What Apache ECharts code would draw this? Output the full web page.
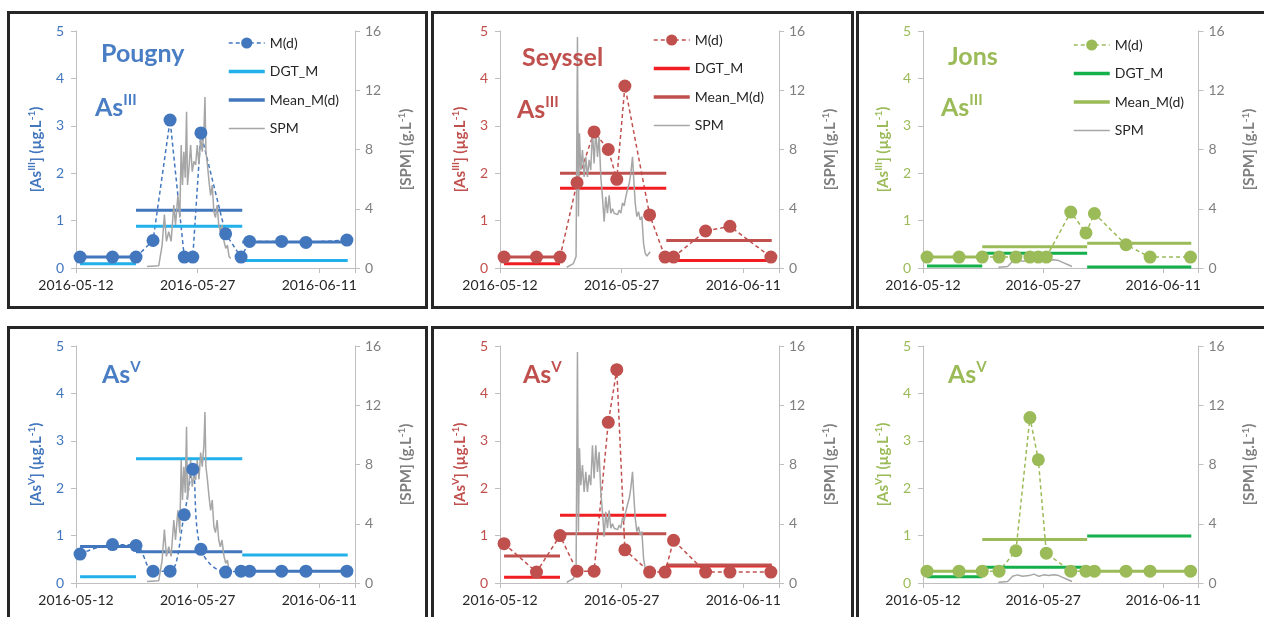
<!DOCTYPE html>
<html>
<head>
<meta charset="utf-8">
<script src="https://cdn.jsdelivr.net/npm/echarts@6/dist/echarts.min.js"></script>
<style>
    body { margin: 0; width: 1264px; height: 617px; overflow: hidden; position: relative; background: #fff; }
    .panel { position: absolute; box-sizing: border-box; border: 3px solid #262626; background: #fff; }
    .panel > div { width: 100%; height: 100%; }
</style>
</head>
<body>
<div class="panel" style="left:7px;top:11px;width:421px;height:298px"><div id="p1"></div></div>
<div class="panel" style="left:431px;top:11px;width:423px;height:298px"><div id="p2"></div></div>
<div class="panel" style="left:856px;top:11px;width:412px;height:298px"><div id="p3"></div></div>
<div class="panel" style="left:7px;top:326px;width:421px;height:300px"><div id="p4"></div></div>
<div class="panel" style="left:431px;top:326px;width:423px;height:300px"><div id="p5"></div></div>
<div class="panel" style="left:856px;top:326px;width:412px;height:300px"><div id="p6"></div></div>
<script>
'use strict';
// x = days since 2016-05-12
var xTicks = ['2016-05-12', '2016-05-27', '2016-06-11'];
var sampleDays = [0.5, 4.5, 7.4, 9.5, 11.6, 13.35, 14.4, 15.4, 18.45, 20.35, 21.4, 25.35, 28.35, 33.4];
// DGT deployment periods
var periodStart = [0.5, 7.4, 20.5];
var periodEnd = [7.4, 20.5, 33.5];

// As(III) - top row
var pougnyAs3 = [0.23, 0.23, 0.23, 0.58, 3.12, 0.23, 0.23, 2.85, 0.72, 0.23, 0.56, 0.56, 0.54, 0.59];
var pougnyAs3Mean = [0.23, 1.22, 0.55];
var pougnyAs3Dgt = [0.09, 0.88, 0.16];
var seysselAs3 = [0.23, 0.23, 0.23, 1.8, 2.87, 2.5, 1.87, 3.84, 1.12, 0.23, 0.23, 0.78, 0.88, 0.23];
var seysselAs3Mean = [0.23, 2.0, 0.58];
var seysselAs3Dgt = [0.09, 1.68, 0.16];
var jonsAs3 = [0.23, 0.23, 0.23, 0.23, 0.23, 0.23, 0.23, 0.23, 1.18, 0.74, 1.15, 0.49, 0.23, 0.23];
var jonsAs3Mean = [0.23, 0.45, 0.52];
var jonsAs3Dgt = [0.04, 0.31, 0.02];

// As(V) - bottom row
var pougnyAs5 = [0.61, 0.81, 0.79, 0.25, 0.25, 1.44, 2.4, 0.71, 0.23, 0.25, 0.25, 0.25, 0.25, 0.25];
var pougnyAs5Mean = [0.77, 0.66, 0.25];
var pougnyAs5Dgt = [0.13, 2.62, 0.59];
var seysselAs5 = [0.83, 0.23, 1.0, 0.25, 0.25, 3.39, 4.5, 0.7, 0.23, 0.23, 0.9, 0.23, 0.23, 0.23];
var seysselAs5Mean = [0.57, 1.04, 0.38];
var seysselAs5Dgt = [0.12, 1.43, 0.36];
var jonsAs5 = [0.25, 0.25, 0.25, 0.25, 0.68, 3.49, 2.6, 0.63, 0.25, 0.25, 0.25, 0.25, 0.25, 0.25];
var jonsAs5Mean = [0.25, 0.92, 0.25];
var jonsAs5Dgt = [0.13, 0.33, 0.99];

// SPM (g/L), right axis
var spmPougnyDays = [8.76, 10.2, 10.62, 10.9, 11.15, 11.44, 11.73, 12.06, 12.27, 12.56, 12.8, 12.97, 13.13, 13.3,
    13.47, 13.63, 13.75, 13.96, 14.13, 14.33, 14.54, 14.75, 14.95, 15.16, 15.37, 15.57, 15.78, 15.9, 16.02, 16.2,
    16.4, 16.6, 16.8, 17.0, 17.2, 17.4, 17.6, 17.8, 18.0, 18.25, 18.46, 18.67, 18.87, 19.08];
var spmPougny = [0.1, 0.15, 1.55, 3.6, 1.8, 2.45, 1.8, 4.25, 2.9, 4.9, 3.4, 8.3, 5.6, 7.85,
    6.1, 10.55, 5.6, 6.95, 8.3, 6.5, 7.2, 6.95, 8.3, 7.0, 8.8, 7.85, 9.4, 11.55, 7.85, 7.0,
    5.85, 4.9, 5.6, 3.8, 3.4, 4.25, 2.9, 2.45, 2.9, 1.8, 1.33, 1.55, 0.77, 0.65];
var spmSeysselDays = [8.23, 9.05, 9.38, 9.55, 9.67, 9.8, 9.96, 10.17, 10.37, 10.58, 10.78, 10.99, 11.19, 11.4,
    11.6, 11.81, 12.02, 12.22, 12.43, 12.63, 12.84, 13.04, 13.25, 13.46, 13.66, 13.87, 14.07, 14.28, 14.49,
    14.69, 14.9, 15.1, 15.31, 15.51, 15.72, 15.93, 16.13, 16.34, 16.5, 16.67, 16.87, 17.08, 17.28, 17.49,
    17.7, 17.9, 18.11, 18.31, 18.52];
var spmSeyssel = [0.05, 0.3, 0.77, 15.6, 3.47, 9.1, 6.6, 7.97, 6.15, 7.5, 6.15, 7.3, 6.6, 9.3,
    7.05, 9.3, 7.5, 8.85, 6.15, 4.8, 3.13, 4.8, 3.7, 4.9, 3.7, 4.0, 3.7, 3.8, 3.6,
    3.9, 3.7, 4.4, 4.2, 4.8, 5.3, 5.7, 6.4, 7.5, 5.9, 4.4, 3.47, 3.8, 3.25, 3.47,
    1.67, 1.0, 0.8, 0.8, 1.1];
var spmJonsDays = [9.42, 10.57, 11.19, 11.8, 12.42, 13.25, 13.86, 14.48, 15.1, 15.72, 16.33, 16.95, 17.57, 18.19, 18.6];
var spmJons = [0.05, 0.1, 0.45, 0.55, 0.45, 0.5, 0.6, 0.45, 0.55, 0.5, 0.55, 0.5, 0.35, 0.2, 0.1];

var legendNames = ['M(d)', 'DGT_M', 'Mean_M(d)', 'SPM'];
var legendWidths = [1.5, 3.5, 3.5, 1.5];

function pairs(xs, ys) {
    return xs.map(function (x, i) { return [x, ys[i]]; });
}

// one horizontal segment per DGT period, broken between periods
function steps(vals) {
    var out = [];
    vals.forEach(function (v, i) {
        if (i > 0) out.push([periodStart[i], '-']);
        out.push([periodStart[i], v]);
        out.push([periodEnd[i], v]);
    });
    return out;
}

function dayLabel(d) {
    if (d % 15 !== 0) return '';
    return xTicks[d / 15] || '';
}

function buildOption(p) {
    var sup = p.species;
    return {
        animation: false,
        textStyle: { fontFamily: 'Lato' },
        title: [
            {
                show: !!p.station,
                text: p.station || '',
                left: p.stationPos[0], top: p.stationPos[1],
                textStyle: { fontSize: 25, fontWeight: 'bold', color: p.titleColor, lineHeight: 28 }
            },
            {
                text: '{a|As}{b|' + sup + '}',
                left: p.speciesPos[0], top: p.speciesPos[1],
                textStyle: {
                    rich: {
                        a: { fontSize: 25, fontWeight: 'bold', color: p.titleColor, lineHeight: 30, fontFamily: 'Lato' },
                        b: { fontSize: 15, fontWeight: 'bold', color: p.titleColor, lineHeight: 20, verticalAlign: 'top', fontFamily: 'Lato' }
                    }
                }
            }
        ],
        legend: {
            show: p.legend,
            // plain lines in the legend for the three series without markers
            data: legendNames.map(function (n, i) {
                var item = { name: n, lineStyle: { width: legendWidths[i] } };
                if (i > 0) item.itemStyle = { opacity: 0 };
                return item;
            }),
            orient: 'vertical',
            left: p.legendPos[0], top: p.legendPos[1],
            itemWidth: 36, itemHeight: 14, itemGap: 14.5,
            selectedMode: false,
            textStyle: { fontSize: 14, color: '#262626' }
        },
        grid: { left: p.gridLeft, top: 17, width: p.gridWidth, height: 237 },
        xAxis: {
            type: 'value', min: 0, max: 34.4, interval: 15,
            axisLine: { lineStyle: { color: '#bfbfbf' } },
            axisTick: { length: 5, lineStyle: { color: '#bfbfbf' } },
            axisLabel: { fontSize: 14, color: '#262626', margin: 10, formatter: dayLabel },
            splitLine: { show: false }
        },
        yAxis: [
            {
                type: 'value', min: 0, max: 5, interval: 1, position: 'left',
                name: '{n|[As}{s|' + sup + '}{n|] (µg.L}{s|-1}{n|)}',
                nameLocation: 'middle', nameRotate: 90, nameGap: 31,
                nameTextStyle: {
                    fontSize: 15, fontWeight: 'bold', color: p.color,
                    rich: {
                        n: { fontSize: 15, fontWeight: 'bold', color: p.color, lineHeight: 18, fontFamily: 'Lato' },
                        s: { fontSize: 10, fontWeight: 'bold', color: p.color, lineHeight: 12, verticalAlign: 'top', fontFamily: 'Lato' }
                    }
                },
                axisLine: { show: true, lineStyle: { color: '#bfbfbf' } },
                axisTick: { show: true, length: 5, lineStyle: { color: '#bfbfbf' } },
                axisLabel: { fontSize: 14, color: p.color, margin: 12 },
                splitLine: { show: false }
            },
            {
                type: 'value', min: 0, max: 16, interval: 4, position: 'right',
                name: '{n|[SPM] (g.L}{s|-1}{n|)}',
                nameLocation: 'middle', nameRotate: 90, nameGap: 42,
                nameTextStyle: {
                    fontSize: 15, fontWeight: 'bold', color: '#7f7f7f',
                    rich: {
                        n: { fontSize: 15, fontWeight: 'bold', color: '#7f7f7f', lineHeight: 18, fontFamily: 'Lato' },
                        s: { fontSize: 10, fontWeight: 'bold', color: '#7f7f7f', lineHeight: 12, verticalAlign: 'top', fontFamily: 'Lato' }
                    }
                },
                axisLine: { show: true, lineStyle: { color: '#bfbfbf' } },
                axisTick: { show: true, length: 5, lineStyle: { color: '#bfbfbf' } },
                axisLabel: { fontSize: 14, color: '#7f7f7f', margin: 10 },
                splitLine: { show: false }
            }
        ],
        series: [
            {
                name: 'M(d)', type: 'line',
                data: pairs(sampleDays, p.md),
                symbol: 'circle', symbolSize: 13, smooth: p.smooth ? 0.35 : false,
                lineStyle: { type: [4, 3], width: 1.5, color: p.color },
                itemStyle: { color: p.color }
            },
            {
                name: 'DGT_M', type: 'line', data: steps(p.dgt), symbol: 'none',
                lineStyle: { width: 3, color: p.dgtColor }, itemStyle: { color: p.dgtColor }
            },
            {
                name: 'Mean_M(d)', type: 'line', data: steps(p.mean), symbol: 'none',
                lineStyle: { width: 3, color: p.color }, itemStyle: { color: p.color }
            },
            {
                name: 'SPM', type: 'line', yAxisIndex: 1, data: pairs(p.spmDays, p.spm), symbol: 'none',
                lineStyle: { width: 1.5, color: '#a6a6a6' }, itemStyle: { color: '#a6a6a6' }
            }
        ]
    };
}

var blue = '#4377bd', blueDgt = '#22b0ea';
var red = '#c0504d', redDgt = '#f01e23';
var green = '#9bbb59', greenDgt = '#14b04c';

var panels = [
    { id: 'p1', station: 'Pougny', species: 'III', color: blue, titleColor: '#4a7ec4', dgtColor: blueDgt,
      md: pougnyAs3, mean: pougnyAs3Mean, dgt: pougnyAs3Dgt, spmDays: spmPougnyDays, spm: spmPougny,
      legend: true, legendPos: [212, 17], stationPos: [86, 21], speciesPos: [80, 74], gridLeft: 66, gridWidth: 279 },
    { id: 'p2', station: 'Seyssel', species: 'III', color: red, titleColor: red, dgtColor: redDgt,
      md: seysselAs3, mean: seysselAs3Mean, dgt: seysselAs3Dgt, spmDays: spmSeysselDays, spm: spmSeyssel,
      legend: true, legendPos: [213, 14], stationPos: [83, 25], speciesPos: [78, 76], gridLeft: 66, gridWidth: 279 },
    { id: 'p3', station: 'Jons', species: 'III', color: green, titleColor: green, dgtColor: greenDgt,
      md: jonsAs3, mean: jonsAs3Mean, dgt: jonsAs3Dgt, spmDays: spmJonsDays, spm: spmJons,
      legend: true, legendPos: [208, 19], stationPos: [84, 24], speciesPos: [77, 74], gridLeft: 64, gridWidth: 277 },
    { id: 'p4', station: '', species: 'V', color: blue, titleColor: '#4a7ec4', dgtColor: blueDgt, smooth: true,
      md: pougnyAs5, mean: pougnyAs5Mean, dgt: pougnyAs5Dgt, spmDays: spmPougnyDays, spm: spmPougny,
      legend: false, legendPos: [0, 0], stationPos: [0, 0], speciesPos: [87, 26], gridLeft: 66, gridWidth: 279 },
    { id: 'p5', station: '', species: 'V', color: red, titleColor: red, dgtColor: redDgt,
      md: seysselAs5, mean: seysselAs5Mean, dgt: seysselAs5Dgt, spmDays: spmSeysselDays, spm: spmSeyssel,
      legend: false, legendPos: [0, 0], stationPos: [0, 0], speciesPos: [84, 26], gridLeft: 66, gridWidth: 279 },
    { id: 'p6', station: '', species: 'V', color: green, titleColor: green, dgtColor: greenDgt,
      md: jonsAs5, mean: jonsAs5Mean, dgt: jonsAs5Dgt, spmDays: spmJonsDays, spm: spmJons,
      legend: false, legendPos: [0, 0], stationPos: [0, 0], speciesPos: [84, 26], gridLeft: 64, gridWidth: 277 }
];

panels.forEach(function (p) {
    var chart = echarts.init(document.getElementById(p.id));
    chart.setOption(buildOption(p));
});
</script>
</body>
</html>
